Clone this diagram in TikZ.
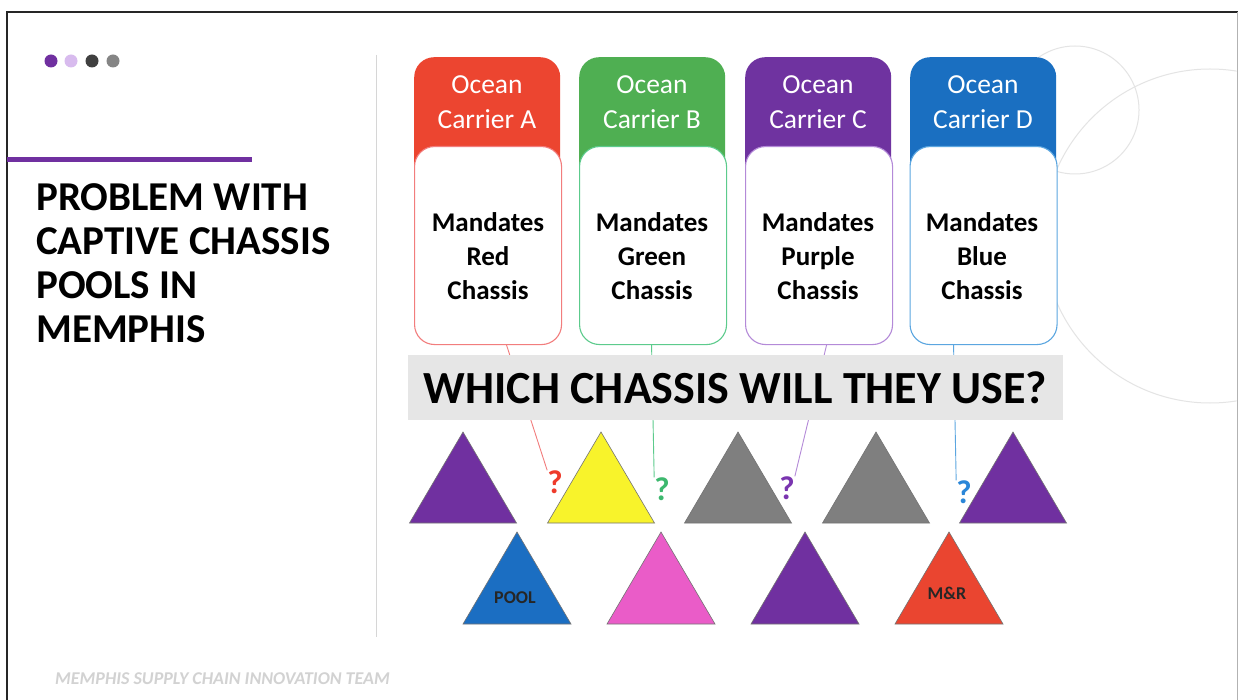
\documentclass[tikz,border=0pt]{standalone}
\usepackage{fontspec}
\setmainfont{Carlito}
\definecolor{cA}{HTML}{EC4530}
\definecolor{cB}{HTML}{4FAF52}
\definecolor{cC}{HTML}{6F33A0}
\definecolor{cD}{HTML}{1A6FC1}
\definecolor{lA}{HTML}{F27D7D}
\definecolor{lB}{HTML}{5CCB8C}
\definecolor{lC}{HTML}{B48AD8}
\definecolor{lD}{HTML}{5BA6E0}
\definecolor{qA}{HTML}{EE3B2B}
\definecolor{qB}{HTML}{3DB86E}
\definecolor{qC}{HTML}{7A35B0}
\definecolor{qD}{HTML}{2A86D8}
\definecolor{tpur}{HTML}{7030A0}
\definecolor{tyel}{HTML}{F8F32B}
\definecolor{tgray}{HTML}{7F7F7F}
\definecolor{tblue}{HTML}{1B6EC2}
\definecolor{tpink}{HTML}{EA5CC8}
\definecolor{tred}{HTML}{EA4530}
\definecolor{dot1}{HTML}{7030A0}
\definecolor{dot2}{HTML}{D8BBEE}
\definecolor{dot3}{HTML}{404040}
\definecolor{dot4}{HTML}{858585}
\definecolor{bangray}{HTML}{E6E6E6}
\definecolor{footgray}{HTML}{D2D2D2}
\definecolor{sepgray}{HTML}{D6D6D6}
\definecolor{circgray}{HTML}{E4E4E4}
\newcommand\chtri[3]{\filldraw[tri, fill=#1] (#2,#3) -- ++(-53.5,91) -- ++(107,0) -- cycle;}
\begin{document}
\begin{tikzpicture}[x=1pt,y=-1pt,
  hdr/.style={rounded corners=20, minimum width=146, minimum height=130, anchor=north west, inner sep=0},
  bodyst/.style={rounded corners=20, fill=white, line width=1.1, minimum width=147, minimum height=198, anchor=north west, inner sep=0},
  hdrtext/.style={text=white, align=center, font=\fontsize{27.5}{35}\selectfont, inner sep=0},
  bodytext/.style={text=black, align=center, font=\bfseries\fontsize{27}{34}\selectfont, inner sep=0},
  qm/.style={font=\bfseries\fontsize{33}{34}\selectfont, inner sep=0},
  conn/.style={line width=0.9},
  tri/.style={draw=black!55, line width=0.6},
  trilabel/.style={font=\bfseries\fontsize{18}{20}\selectfont, inner sep=0, text=black!85}
]
\useasboundingbox (0,0) rectangle (1238,700);
\fill[white] (0,0) rectangle (1238,700);
% decorative circles
\begin{scope}
  \clip (7,12) rectangle (1236.5,700);
  \draw[circgray, line width=1] (1075,110) circle[radius=64];
  \draw[circgray, line width=1] (1210,236) circle[radius=167];
\end{scope}
% frame
\draw[black!85, line width=1.8] (7,700) -- (7,12) -- (1238,12);
\draw[black!30, line width=1] (1237,12) -- (1237,700);
% dots
\fill[dot1] (51,61) circle[radius=6.5];
\fill[dot2] (71,61) circle[radius=6.5];
\fill[dot3] (92,61) circle[radius=6.5];
\fill[dot4] (113,61) circle[radius=6.5];
% purple bar
\fill[tpur] (7,157) rectangle (252,162);
% title
\node[anchor=north west, align=left, inner sep=0, font=\bfseries\fontsize{41}{44}\selectfont] (title) at (36,183) {PROBLEM WITH\\CAPTIVE CHASSIS\\POOLS IN\\MEMPHIS};
% separator
\draw[sepgray, line width=1] (376,55) -- (376,637);
% carrier boxes
\node[hdr, fill=cA] (hA) at (414,57) {};
\node[hdr, fill=cB] (hB) at (579,57) {};
\node[hdr, fill=cC] (hC) at (745,57) {};
\node[hdr, fill=cD] (hD) at (910,57) {};
\node[bodyst, draw=lA] (bA) at (414,146) {};
\node[bodyst, draw=lB] (bB) at (579,146) {};
\node[bodyst, draw=lC] (bC) at (745,146) {};
\node[bodyst, draw=lD] (bD) at (909.5,146) {};
\node[hdrtext] (oA) at (487,102.5) {Ocean\\Carrier A};
\node[hdrtext] (oB) at (652,102.5) {Ocean\\Carrier B};
\node[hdrtext] (oC) at (818,102.5) {Ocean\\Carrier C};
\node[hdrtext] (oD) at (983,102.5) {Ocean\\Carrier D};
\node[bodytext] (tA) at (488,256) {Mandates\\Red\\Chassis};
\node[bodytext] (tB) at (652,256) {Mandates\\Green\\Chassis};
\node[bodytext] (tC) at (818,256) {Mandates\\Purple\\Chassis};
\node[bodytext] (tD) at (982,256) {Mandates\\Blue\\Chassis};
% question marks
\node[qm, text=qA] (qA) at (555,482) {?};
\node[qm, text=qB] (qB) at (662,489) {?};
\node[qm, text=qC] (qC) at (787,488) {?};
\node[qm, text=qD] (qD) at (964,492) {?};
% connectors
\draw[conn, lA] ([xshift=18.5pt]bA.south) -- (qA.north west);
\draw[conn, lB] ([xshift=-1.5pt]bB.south) -- (qB.north west);
\draw[conn, lC] ([xshift=7.5pt]bC.south) -- (qC.north east);
\draw[conn, lD] ([xshift=-30pt]bD.south) -- (qD.north west);
% banner
\node[fill=bangray, minimum width=655, minimum height=65, inner sep=0, font=\bfseries\fontsize{46}{50}\selectfont] (ban) at (735.5,387.5) {WHICH CHASSIS WILL THEY USE?};
% triangles row 1
\chtri{tpur}{463}{432}
\chtri{tyel}{601}{432}
\chtri{tgray}{738}{432}
\chtri{tgray}{876}{432}
\chtri{tpur}{1013}{432}
% triangles row 2
\filldraw[tri, fill=tblue] (517,532) -- ++(-54,92) -- ++(108,0) -- cycle;
\filldraw[tri, fill=tpink] (661,532) -- ++(-54,92) -- ++(108,0) -- cycle;
\filldraw[tri, fill=tpur] (805,532) -- ++(-54,92) -- ++(108,0) -- cycle;
\filldraw[tri, fill=tred] (949,532) -- ++(-54,92) -- ++(108,0) -- cycle;
\node[trilabel] (pool) at (515,598) {POOL};
\node[trilabel] (mr) at (947,593) {M\&R};
% footer
\node[anchor=west, inner sep=0, text=footgray, font=\bfseries\itshape\fontsize{18}{20}\selectfont] (foot) at (55,679) {MEMPHIS SUPPLY CHAIN INNOVATION TEAM};
\end{tikzpicture}
\end{document}
